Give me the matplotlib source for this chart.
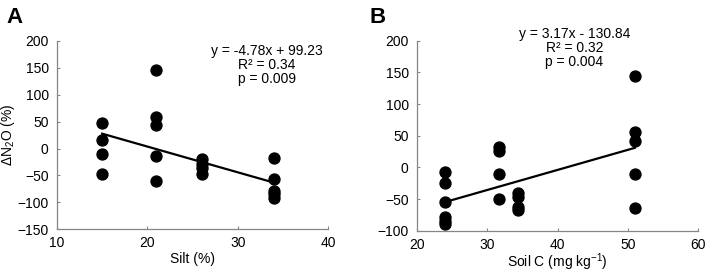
import matplotlib
matplotlib.use("Agg")
import matplotlib.pyplot as plt
import numpy as np

plt.rcParams["font.family"] = ["Liberation Sans", "DejaVu Sans"]
plt.rcParams["mathtext.fontset"] = "custom"
plt.rcParams["mathtext.rm"] = "Liberation Sans"
plt.rcParams["mathtext.it"] = "Liberation Sans:italic"
plt.rcParams["mathtext.default"] = "regular"

# panel A: silt vs delta N2O
silt_x = [15, 15, 15, 15, 21, 21, 21, 21, 21, 26, 26, 26, 26, 34, 34, 34, 34, 34]
silt_y = [48, 15, -10, -47, 145, 58, 43, -14, -60, -20, -29, -37, -48, -18, -56, -78, -85, -91]
silt_fit = (-4.78, 99.23)
silt_stats = ["y = -4.78x + 99.23", "R² = 0.34", "p = 0.009"]

# panel B: soil C vs delta N2O
soc_x = [24, 24, 24, 24, 24, 24, 31.7, 31.7, 31.7, 31.7, 34.4, 34.4, 34.4, 34.4, 51, 51, 51, 51, 51]
soc_y = [-7, -25, -55, -79, -85, -90, 32, 26, -11, -50, -40, -47, -62, -68, 145, 56, 42, -10, -64]
soc_fit = (3.17, -130.84)
soc_stats = ["y = 3.17x - 130.84", "R² = 0.32", "p = 0.004"]

FS = 10

fig = plt.figure(figsize=(7.06, 2.72), dpi=100)
axA = fig.add_axes([0.0807, 0.157, 0.384, 0.693])
axB = fig.add_axes([0.5907, 0.152, 0.398, 0.698])

def style(ax):
    for s in ["top", "right"]:
        ax.spines[s].set_visible(False)
    for s in ["left", "bottom"]:
        ax.spines[s].set_color("#868686")
        ax.spines[s].set_linewidth(0.9)
    ax.tick_params(direction="in", length=2.5, width=0.8, color="#868686",
                   labelsize=FS, pad=6)
    ax.tick_params(axis="x", pad=5)

def panel(ax, x, y, fit, stats, xlim, ylim, xticks, yticks, xlabel, txt_xy, lpad):
    ax.scatter(x, y, s=62, color="black", zorder=3, clip_on=False)
    xs = np.array([min(x), max(x)])
    ax.plot(xs, fit[0] * xs + fit[1], color="black", lw=1.6, zorder=2)
    ax.set_xlim(*xlim); ax.set_ylim(*ylim)
    ax.set_xticks(xticks); ax.set_yticks(yticks)
    ax.set_xlabel(xlabel, fontsize=FS, labelpad=lpad)
    ax.text(txt_xy[0], txt_xy[1], "\n".join(stats), transform=ax.transAxes,
            ha="center", va="top", fontsize=FS, linespacing=1.0)
    style(ax)

panel(axA, silt_x, silt_y, silt_fit, silt_stats, (10, 40), (-150, 200),
      [10, 20, 30, 40], np.arange(-150, 201, 50), "Silt (%)", (0.775, 0.985), 1.5)
axA.set_ylabel("ΔN$_2$O (%)", fontsize=FS, labelpad=0)

panel(axB, soc_x, soc_y, soc_fit, soc_stats, (20, 60), (-100, 200),
      [20, 30, 40, 50, 60], np.arange(-100, 201, 50), "Soil C (mg kg$^{-1}$)", (0.56, 1.075), 0)

fig.text(0.009, 0.975, "A", fontsize=16, fontweight="bold", va="top")
fig.text(0.523, 0.975, "B", fontsize=16, fontweight="bold", va="top")

fig.savefig("out.png", dpi=100)
